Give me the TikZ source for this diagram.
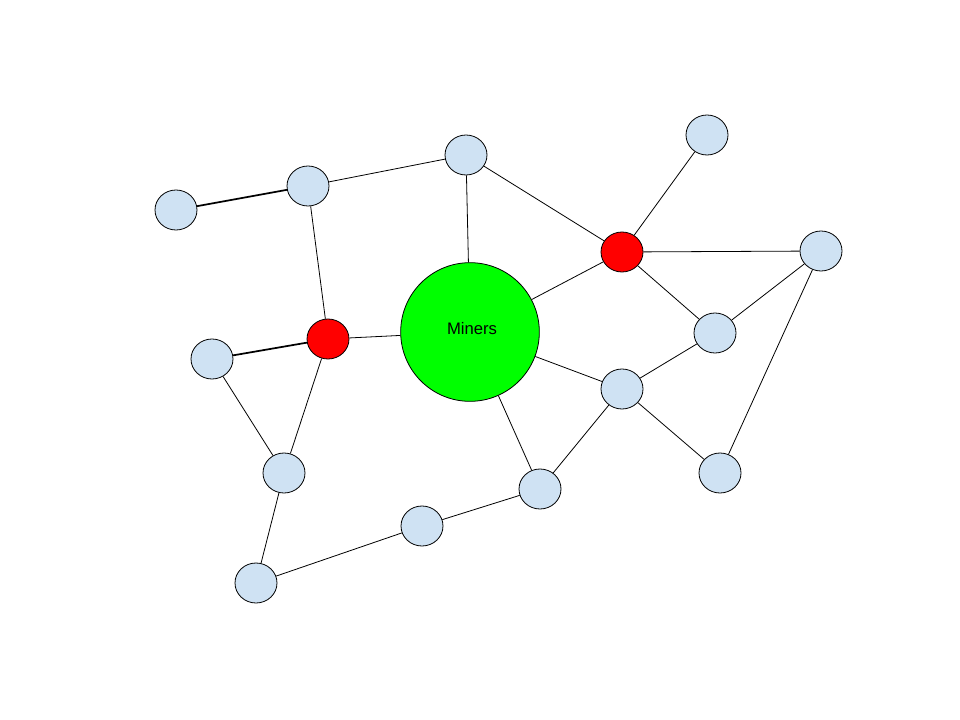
\documentclass[tikz,border=0pt]{standalone}
\usepackage{fontspec}
\setmainfont{Liberation Sans}
\usetikzlibrary{shapes.geometric}
\definecolor{nb}{HTML}{CFE2F3}
\begin{document}
\begin{tikzpicture}[x=0.75pt,y=-0.75pt,
  n/.style={ellipse,draw=black,fill=nb,line width=0.6pt,minimum width=31.5pt,minimum height=30pt,inner sep=0pt},
  r/.style={n,fill=red},
  e/.style={line width=0.6pt},
  eb/.style={line width=1.3pt}]
\useasboundingbox (0,0) rectangle (960,720);
\node[n] (A) at (176,210) {};
\node[n] (B) at (308,186) {};
\node[n] (C) at (466,155) {};
\node[n] (D) at (707,135) {};
\node[r] (R1) at (622,252) {};
\node[n] (E) at (821,251) {};
\node[circle,draw=black,fill=green,line width=0.6pt,minimum size=104pt,inner sep=0pt,font=\fontsize{13.5pt}{15pt}\selectfont] (G) at (470,332) {};
\node[font=\fontsize{12.5pt}{14pt}\selectfont] (Gt) at (472,329) {Miners};
\node[r] (R2) at (328,339) {};
\node[n] (F) at (212,359) {};
\node[n] (H) at (715,333) {};
\node[n] (I) at (622,389) {};
\node[n] (J) at (284,473) {};
\node[n] (K) at (540,489) {};
\node[n] (L) at (720,473) {};
\node[n] (M) at (422,526) {};
\node[n] (N) at (256,583) {};
\draw[eb] (A) -- (B);
\draw[eb] (F) -- (R2);
\foreach \a/\b in {B/C,B/R2,C/G,C/R1,D/R1,R1/G,R1/E,R1/H,E/H,E/L,G/R2,G/I,G/K,H/I,I/K,I/L,R2/J,F/J,J/N,N/M,M/K}
  \draw[e] (\a) -- (\b);
\end{tikzpicture}
\end{document}
